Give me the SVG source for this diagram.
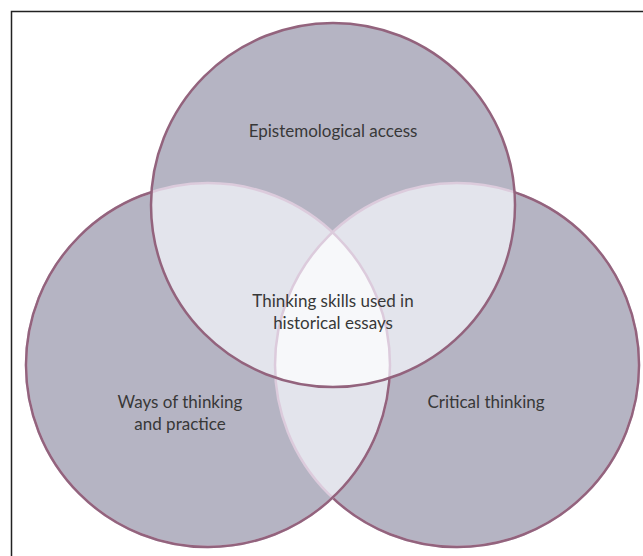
<svg xmlns="http://www.w3.org/2000/svg" xmlns:xlink="http://www.w3.org/1999/xlink" width="643" height="556" viewBox="0 0 643 556">
<style>
.base{fill:#b5b4c3}
.pair{fill:#e3e4ec}
.triple{fill:#f7f8fa}
.dark{fill:none;stroke:#93637d;stroke-width:2.5}
.faint{fill:none;stroke:#dccbdc;stroke-width:2.5}
text{font-family:Lato,"Liberation Sans",sans-serif;font-size:17px;fill:#383838;text-anchor:middle}
</style>
<defs>
<circle id="cT" cx="333" cy="205" r="182"/>
<circle id="cL" cx="208" cy="365" r="182"/>
<circle id="cR" cx="457" cy="365" r="182"/>
<clipPath id="clipT"><use xlink:href="#cT"/></clipPath>
<clipPath id="clipL"><use xlink:href="#cL"/></clipPath>
<clipPath id="clipR"><use xlink:href="#cR"/></clipPath>
<mask id="outLT" maskUnits="userSpaceOnUse" x="0" y="0" width="643" height="556">
<rect x="0" y="0" width="643" height="556" fill="#fff"/>
<use xlink:href="#cL" fill="#000"/>
<use xlink:href="#cT" fill="#000"/>
</mask>
<mask id="outT" maskUnits="userSpaceOnUse" x="0" y="0" width="643" height="556">
<rect x="0" y="0" width="643" height="556" fill="#fff"/>
<use xlink:href="#cT" fill="#000"/>
</mask>
</defs>
<rect x="0" y="0" width="643" height="556" fill="#fff"/>
<rect x="11.5" y="11.5" width="660" height="600" fill="none" stroke="#222" stroke-width="1.5"/>
<g id="fills">
<use xlink:href="#cR" class="base"/>
<use xlink:href="#cL" class="base"/>
<use xlink:href="#cT" class="base"/>
<use xlink:href="#cL" class="pair" clip-path="url(#clipR)"/>
<use xlink:href="#cT" class="pair" clip-path="url(#clipR)"/>
<use xlink:href="#cT" class="pair" clip-path="url(#clipL)"/>
<g clip-path="url(#clipT)"><use xlink:href="#cL" class="triple" clip-path="url(#clipR)"/></g>
</g>
<g id="node-critical">
<use xlink:href="#cR" class="faint"/>
<use xlink:href="#cR" class="dark" mask="url(#outLT)"/>
<text x="486" y="408">Critical thinking</text>
</g>
<g id="node-ways">
<use xlink:href="#cL" class="faint"/>
<use xlink:href="#cL" class="dark" mask="url(#outT)"/>
<text x="180" y="408">Ways of thinking</text>
<text x="180" y="430">and practice</text>
</g>
<g id="node-epistemological">
<use xlink:href="#cT" class="dark"/>
<text x="333" y="137">Epistemological access</text>
</g>
<g id="node-center">
<text x="333" y="307">Thinking skills used in</text>
<text x="333" y="329">historical essays</text>
</g>
</svg>
